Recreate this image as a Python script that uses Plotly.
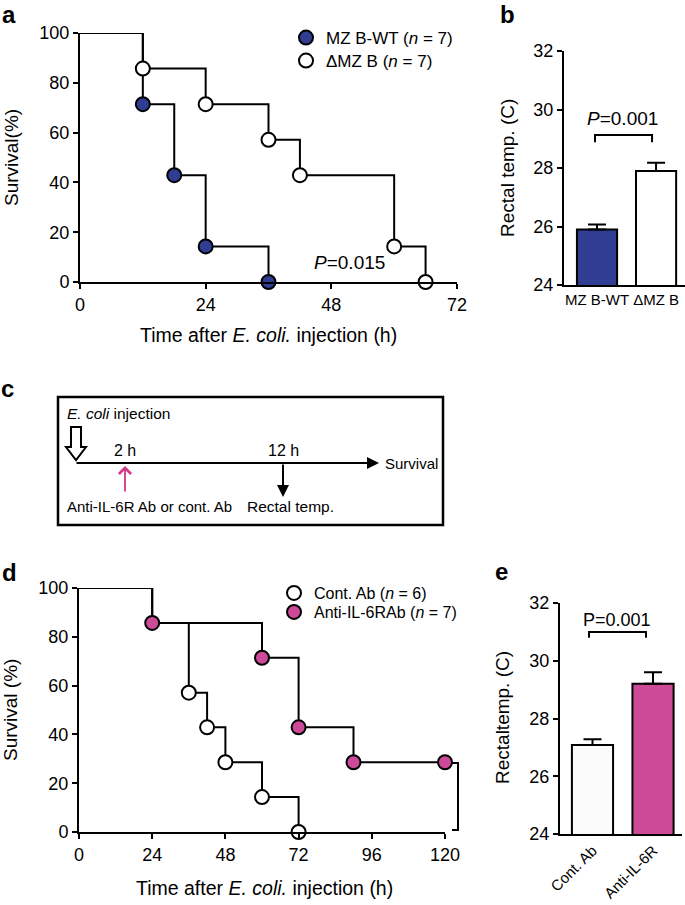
import plotly.graph_objects as go

W, H = 685, 905
FONT = "Liberation Sans, Arial, sans-serif"
BLUE = "#2f3d92"
PINK = "#cc4a98"

# ---------------- data ----------------
# panel a (Kaplan-Meier)
a_wt_time = [0, 12, 18, 24, 36]
a_wt_surv = [100, 71.4, 42.9, 14.3, 0]
a_ko_time = [0, 12, 24, 36, 42, 60, 66]
a_ko_surv = [100, 85.7, 71.4, 57.1, 42.9, 14.3, 0]
a_xticks = [0, 24, 48, 72]
a_yticks = [0, 20, 40, 60, 80, 100]

# panel b (rectal temperature)
b_groups = ["MZ B-WT", "ΔMZ B"]
b_means = [25.9, 27.9]
b_sem = [0.17, 0.28]
b_yticks = [24, 26, 28, 30, 32]

# panel d (Kaplan-Meier)
d_cont_time = [0, 24, 36, 42, 48, 60, 72]
d_cont_surv = [100, 85.7, 57.1, 42.9, 28.6, 14.3, 0]
d_anti_time = [0, 24, 60, 72, 90, 120]
d_anti_surv = [100, 85.7, 71.4, 42.9, 28.6, 28.6]
d_xticks = [0, 24, 48, 72, 96, 120]
d_yticks = [0, 20, 40, 60, 80, 100]

# panel e (rectal temperature)
e_groups = ["Cont. Ab", "Anti-IL-6R"]
e_means = [27.08, 29.2]
e_sem = [0.2, 0.4]
e_yticks = [24, 26, 28, 30, 32]


def PX(x):
    return x / W


def PY(y):
    return 1 - y / H


fig = go.Figure()

# ---------- panel a ----------
fig.add_trace(go.Scatter(x=a_ko_time, y=a_ko_surv, mode="lines", line=dict(color="black", width=2, shape="hv"),
                         xaxis="x", yaxis="y", showlegend=False, cliponaxis=False, hoverinfo="skip"))
fig.add_trace(go.Scatter(x=a_wt_time, y=a_wt_surv, mode="lines", line=dict(color="black", width=2, shape="hv"),
                         xaxis="x", yaxis="y", showlegend=False, cliponaxis=False, hoverinfo="skip"))
fig.add_trace(go.Scatter(x=a_wt_time[1:], y=a_wt_surv[1:], mode="markers",
                         marker=dict(color=BLUE, size=14, line=dict(color="black", width=2)),
                         xaxis="x", yaxis="y", cliponaxis=False, name="MZ B-WT (<i>n</i> = 7)", legend="legend"))
fig.add_trace(go.Scatter(x=a_ko_time[1:], y=a_ko_surv[1:], mode="markers",
                         marker=dict(color="white", size=14, line=dict(color="black", width=2)),
                         xaxis="x", yaxis="y", cliponaxis=False, name="ΔMZ B (<i>n</i> = 7)", legend="legend2"))

# ---------- panel b ----------
fig.add_trace(go.Bar(x=[0, 1], y=b_means, width=0.68, marker=dict(color=[BLUE, "white"], line=dict(color="black", width=2)),
                     error_y=dict(type="data", array=b_sem, arrayminus=[0, 0], symmetric=False, color="black",
                                  thickness=2, width=9),
                     xaxis="x2", yaxis="y2", showlegend=False))

# ---------- panel d ----------
fig.add_trace(go.Scatter(x=d_cont_time, y=d_cont_surv, mode="lines", line=dict(color="black", width=2, shape="hv"),
                         xaxis="x3", yaxis="y3", showlegend=False, cliponaxis=False, hoverinfo="skip"))
fig.add_trace(go.Scatter(x=d_anti_time, y=d_anti_surv, mode="lines", line=dict(color="black", width=2, shape="hv"),
                         xaxis="x3", yaxis="y3", showlegend=False, cliponaxis=False, hoverinfo="skip"))
fig.add_trace(go.Scatter(x=d_cont_time[2:], y=d_cont_surv[2:], mode="markers",
                         marker=dict(color="white", size=14, line=dict(color="black", width=2)),
                         xaxis="x3", yaxis="y3", cliponaxis=False, name="Cont. Ab (<i>n</i> = 6)", legend="legend3"))
fig.add_trace(go.Scatter(x=d_anti_time[1:], y=d_anti_surv[1:], mode="markers",
                         marker=dict(color=PINK, size=14, line=dict(color="black", width=2)),
                         xaxis="x3", yaxis="y3", cliponaxis=False, name="Anti-IL-6RAb (<i>n</i> = 7)", legend="legend4"))

# ---------- panel e ----------
fig.add_trace(go.Bar(x=[0, 1], y=e_means, width=0.68, marker=dict(color=["#fbfbfb", PINK], line=dict(color="black", width=2)),
                     error_y=dict(type="data", array=e_sem, arrayminus=[0, 0], symmetric=False, color="black",
                                  thickness=2, width=9),
                     xaxis="x4", yaxis="y4", showlegend=False))

axis_common = dict(showline=True, linecolor="black", linewidth=2, showgrid=False, zeroline=False,
                   ticks="outside", ticklen=5, tickwidth=2, tickcolor="black", automargin=False,
                   tickfont=dict(family=FONT, size=18, color="black"), fixedrange=True)


def leg(x, y, size):
    return dict(x=PX(x - 19), y=PY(y), xanchor="left", yanchor="middle", bgcolor="rgba(0,0,0,0)",
                font=dict(family=FONT, size=size, color="black"), itemclick=False, itemdoubleclick=False)


fig.update_layout(
    template="none",
    width=W, height=H, margin=dict(l=0, r=0, t=0, b=0, autoexpand=False),
    paper_bgcolor="white", plot_bgcolor="white",
    font=dict(family=FONT, color="black"),
    xaxis=dict(axis_common, domain=[PX(80), PX(457)], range=[0, 72], tickvals=a_xticks, anchor="y"),
    yaxis=dict(axis_common, domain=[PY(282), PY(33)], range=[0, 100], tickvals=a_yticks, anchor="x"),
    xaxis2=dict(axis_common, domain=[PX(564), PX(685)], range=[-0.559, 1.49], tickvals=[0, 1], ticktext=b_groups,
                ticks="", tickangle=0, tickfont=dict(family=FONT, size=15, color="black"), anchor="y2"),
    yaxis2=dict(axis_common, domain=[PY(285), PY(51)], range=[24, 32], tickvals=b_yticks, anchor="x2"),
    xaxis3=dict(axis_common, domain=[PX(79), PX(445)], range=[0, 120], tickvals=d_xticks, anchor="y3"),
    yaxis3=dict(axis_common, domain=[PY(832), PY(588)], range=[0, 100], tickvals=d_yticks, anchor="x3"),
    xaxis4=dict(axis_common, domain=[PX(560), PX(682)], range=[-0.537, 1.479], tickvals=[0, 1], ticktext=e_groups,
                ticks="", tickangle=-45, tickfont=dict(family=FONT, size=15, color="black"), anchor="y4"),
    yaxis4=dict(axis_common, domain=[PY(834), PY(603)], range=[24, 32], tickvals=e_yticks, anchor="x4"),
    legend=leg(305, 38, 17),
    legend2=leg(305, 61, 17),
    legend3=leg(293, 593, 16),
    legend4=leg(293, 612, 16),
    bargap=0,
)

ann = []
shapes = []


def text(x, y, s, size=18, xanchor="center", angle=0, bold=False, xref="paper", yref="paper", yanchor="middle"):
    if xref == "paper":
        x = PX(x)
    if yref == "paper":
        y = PY(y)
    ann.append(dict(x=x, y=y, xref=xref, yref=yref, text=("<b>%s</b>" % s) if bold else s, showarrow=False,
                    xanchor=xanchor, yanchor=yanchor, textangle=angle,
                    font=dict(family=FONT, size=size, color="black")))


def arrow(hx, hy, tx, ty, color="black", head=2, size=1.2, width=2):
    ann.append(dict(x=PX(hx), y=PY(hy), ax=tx - hx, ay=ty - hy, xref="paper", yref="paper",
                    axref="pixel", ayref="pixel", text="", showarrow=True, arrowhead=head,
                    arrowsize=size, arrowwidth=width, arrowcolor=color))


# panel letters
text(9, 15, "a", size=24, bold=True)
text(507, 15, "b", size=24, bold=True)
text(7, 388, "c", size=24, bold=True)
text(9, 572, "d", size=24, bold=True)
text(501, 571, "e", size=24, bold=True)

# axis titles
text(12, 158, "Survival(%)", size=19, angle=-90)
text(268, 335, "Time after <i>E. coli.</i> injection (h)", size=19.5)
text(507, 168, "Rectal temp. (C)", size=19, angle=-90)
text(10, 710, "Survival (%)", size=19, angle=-90)
text(264, 888, "Time after <i>E. coli.</i> injection (h)", size=19.5)
text(502, 718, "Rectaltemp. (C)", size=19, angle=-90)

# P values
text(51.4, 8, "<i>P</i>=0.015", size=19, xref="x", yref="y")
text(0.44, 29.7, "<i>P</i>=0.001", size=19, xref="x2", yref="y2")
text(121.3, 12, "P=0.019", size=18, xanchor="right", xref="x3", yref="y3")
text(0.405, 31.42, "P=0.001", size=18, xref="x4", yref="y4")

# brackets (b and e) in data coordinates
shapes.append(dict(type="path", xref="x2", yref="y2", path="M -0.034,28.88 L -0.034,29.13 L 0.932,29.13 L 0.932,28.88",
                   line=dict(color="black", width=2)))
shapes.append(dict(type="path", xref="x4", yref="y4", path="M -0.058,30.8 L -0.058,31.0 L 0.884,31.0 L 0.884,30.8",
                   line=dict(color="black", width=2)))
# bracket d (right of the axis, paper coordinates)
shapes.append(dict(type="path", xref="paper", yref="paper",
                   path="M %f,%f L %f,%f L %f,%f L %f,%f" % (PX(452), PY(763), PX(458), PY(763), PX(458), PY(830),
                                                            PX(452), PY(830)),
                   line=dict(color="black", width=2)))

# ---------- panel c diagram ----------
shapes.append(dict(type="rect", xref="paper", yref="paper", x0=PX(58), x1=PX(443), y0=PY(525), y1=PY(397),
                   line=dict(color="black", width=2.5), fillcolor="rgba(0,0,0,0)"))
# hollow arrow
pts = [(71, 427), (81, 427), (81, 447), (86, 447), (76, 460), (66, 447), (71, 447)]
shapes.append(dict(type="path", xref="paper", yref="paper",
                   path="M " + " L ".join("%f,%f" % (PX(x), PY(y)) for x, y in pts) + " Z",
                   line=dict(color="black", width=2), fillcolor="white"))
arrow(379, 463, 75, 463)                                   # timeline
arrow(125, 466, 125, 493, color="#d6368a", head=4, size=1.3, width=1.8)  # pink arrow
arrow(283, 497, 283, 463)                                  # black arrow down

text(65, 413, "<i>E. coli</i> injection", size=15.5, xanchor="left")
text(125, 450, "2 h", size=16)
text(283, 450, "12 h", size=16)
text(383, 463, "Survival", size=15, xanchor="left")
text(65, 507, "Anti-IL-6R Ab or cont. Ab", size=15, xanchor="left")
text(245, 507, "Rectal temp.", size=15.5, xanchor="left")

fig.update_layout(annotations=ann, shapes=shapes)
fig.write_html("out.html", config={"displayModeBar": False, "staticPlot": True},
               post_script="document.body.style.margin='0';document.body.style.overflow='hidden';")
